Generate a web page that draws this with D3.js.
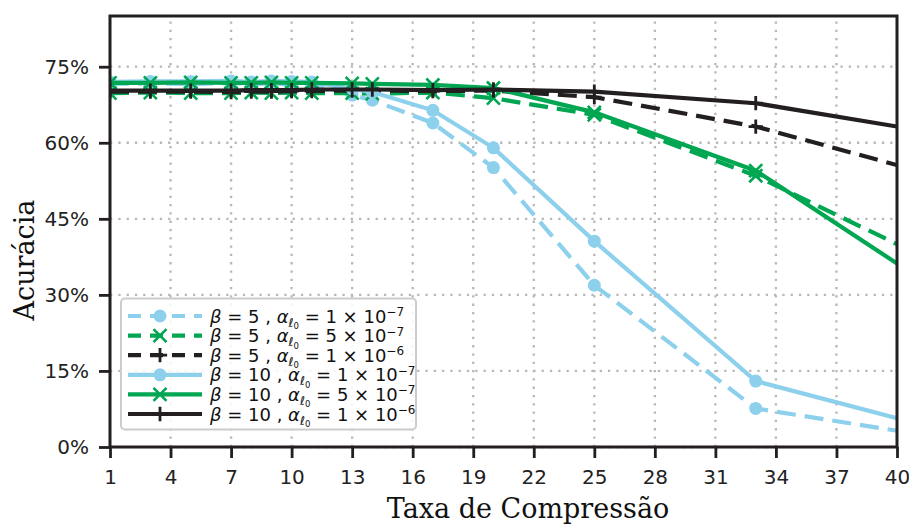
<!DOCTYPE html>
<html>
<head>
<meta charset="utf-8">
<script src="https://cdn.jsdelivr.net/npm/d3@7"></script>
<style>
  html, body { margin: 0; padding: 0; background: #fff; }
  svg { display: block; }
</style>
</head>
<body>
<div id="chart"></div>
<script>
// Compression rate on the x axis, accuracy (%) on the y axis
const compressao = [1, 3, 5, 7, 8, 9, 10, 11, 13, 14, 17, 20, 25, 33, 40];

const acc_b5_a1e7  = [71.6, 71.7, 71.6, 71.8, 71.6, 71.7, 71.5, 71.6, 69.4, 68.4, 63.9, 55.1, 31.9, 7.6, 3.2];
const acc_b5_a5e7  = [69.8, 69.9, 69.8, 69.8, 69.9, 69.8, 69.9, 69.8, 69.8, 69.7, 69.9, 68.8, 65.5, 53.5, 40.0];
const acc_b5_a1e6  = [70.1, 70.1, 70.1, 70.0, 70.1, 70.1, 70.2, 70.2, 70.3, 70.3, 70.2, 70.3, 69.0, 63.2, 55.6];
const acc_b10_a1e7 = [72.0, 72.1, 72.1, 72.2, 72.0, 72.2, 72.1, 72.0, 70.6, 70.0, 66.4, 59.0, 40.6, 13.0, 5.7];
const acc_b10_a5e7 = [71.8, 71.8, 71.9, 71.8, 71.8, 71.9, 71.8, 71.8, 71.7, 71.6, 71.4, 70.8, 66.0, 54.5, 36.2];
const acc_b10_a1e6 = [70.3, 70.3, 70.3, 70.3, 70.4, 70.4, 70.4, 70.5, 70.5, 70.5, 70.4, 70.5, 70.1, 67.8, 63.2];

// Legend parameters for each run
const betas      = [5, 5, 5, 10, 10, 10];
const alphaMant  = [1, 5, 1, 1, 5, 1];
const alphaExp   = [-7, -7, -6, -7, -7, -6];

const xTicks = [1, 4, 7, 10, 13, 16, 19, 22, 25, 28, 31, 34, 37, 40];
const yTicks = [0, 15, 30, 45, 60, 75];

const xLabel = "Taxa de Compressão";
const yLabel = "Acurácia";

const C_BLUE = "#8dd0ec", C_GREEN = "#00a651", C_BLACK = "#231f20";

const series = [
  { values: acc_b5_a1e7,  color: C_BLUE,  dashed: true,  marker: "circle" },
  { values: acc_b5_a5e7,  color: C_GREEN, dashed: true,  marker: "x" },
  { values: acc_b5_a1e6,  color: C_BLACK, dashed: true,  marker: "plus" },
  { values: acc_b10_a1e7, color: C_BLUE,  dashed: false, marker: "circle" },
  { values: acc_b10_a5e7, color: C_GREEN, dashed: false, marker: "x" },
  { values: acc_b10_a1e6, color: C_BLACK, dashed: false, marker: "plus" }
];

const W = 909, H = 524;
const L = 110, R = 897, T = 16, B = 447;
const LW = 4.2, DASH = "19 9";

const svg = d3.select("#chart").append("svg").attr("width", W).attr("height", H);

const x = d3.scaleLinear().domain([1, 40]).range([L, R]);
const y = d3.scaleLinear().domain([0, 85]).range([B, T]);

svg.append("defs").append("clipPath").attr("id", "plotClip")
  .append("rect").attr("x", L).attr("y", T).attr("width", R - L).attr("height", B - T);

// dotted grid
const grid = svg.append("g").attr("stroke", "#b8b8b8").attr("stroke-width", 2.3)
  .attr("stroke-dasharray", "2.3 6");
grid.selectAll("line.v").data(xTicks).join("line").attr("class", "v")
  .attr("x1", d => x(d)).attr("x2", d => x(d)).attr("y1", B).attr("y2", T);
grid.selectAll("line.h").data(yTicks).join("line").attr("class", "h")
  .attr("x1", L).attr("x2", R).attr("y1", d => y(d)).attr("y2", d => y(d));

// marker shapes
function drawMarker(g, kind, color, cx, cy, s) {
  if (kind === "circle") {
    g.append("circle").attr("cx", cx).attr("cy", cy).attr("r", s * 0.5).attr("fill", color);
  } else if (kind === "x") {
    const h = s * 0.5;
    g.append("path").attr("d", `M${cx - h},${cy - h}L${cx + h},${cy + h}M${cx - h},${cy + h}L${cx + h},${cy - h}`)
      .attr("stroke", color).attr("stroke-width", 2.6).attr("fill", "none");
  } else {
    const h = s * 0.55;
    g.append("path").attr("d", `M${cx - h},${cy}L${cx + h},${cy}M${cx},${cy - h}L${cx},${cy + h}`)
      .attr("stroke", color).attr("stroke-width", 2.8).attr("fill", "none");
  }
}

const plot = svg.append("g").attr("clip-path", "url(#plotClip)");
const line = d3.line().x(d => x(d[0])).y(d => y(d[1]));

series.forEach(s => {
  const pts = compressao.map((c, i) => [c, s.values[i]]);
  const g = plot.append("g");
  g.append("path").datum(pts).attr("d", line)
    .attr("fill", "none").attr("stroke", s.color).attr("stroke-width", LW)
    .attr("stroke-dasharray", s.dashed ? DASH : null);
  // markers on the right frame edge fall outside the drawing area
  pts.filter(p => p[0] < x.domain()[1]).forEach(p => drawMarker(g, s.marker, s.color, x(p[0]), y(p[1]), 13));
});

// axes
const fontTicks = "'DejaVu Sans', sans-serif";
const xAxis = svg.append("g").attr("transform", `translate(0,${B})`)
  .call(d3.axisBottom(x).tickValues(xTicks).tickSize(11).tickPadding(12).tickFormat(d3.format("d")));
const yAxis = svg.append("g").attr("transform", `translate(${L},0)`)
  .call(d3.axisLeft(y).tickValues(yTicks).tickSize(11).tickPadding(10).tickFormat(d => d + "%"));
[xAxis, yAxis].forEach(a => {
  a.select(".domain").remove();
  a.selectAll(".tick line").attr("stroke", C_BLACK).attr("stroke-width", 2.8);
  a.selectAll(".tick text").attr("fill", "#222").attr("font-family", fontTicks).attr("font-size", 20);
});

// frame
svg.append("rect").attr("x", L).attr("y", T).attr("width", R - L).attr("height", B - T)
  .attr("fill", "none").attr("stroke", C_BLACK).attr("stroke-width", 3);

// axis titles
svg.append("text").attr("x", 528).attr("y", 518).attr("text-anchor", "middle")
  .attr("font-family", "'DejaVu Serif', serif").attr("font-size", 27).attr("fill", "#111").text(xLabel);
svg.append("text").attr("transform", "translate(34,260) rotate(-90)").attr("text-anchor", "middle")
  .attr("font-family", "'DejaVu Serif', serif").attr("font-size", 27).attr("fill", "#111").text(yLabel);

// legend
const lg = svg.append("g");
lg.append("rect").attr("x", 121).attr("y", 298.5).attr("width", 295).attr("height", 131).attr("rx", 4)
  .attr("fill", "#fff").attr("fill-opacity", 0.85).attr("stroke", "#cccccc").attr("stroke-width", 2);

const rowY0 = 316, rowDY = 19.6;
series.forEach((s, i) => {
  const cy = rowY0 + i * rowDY;
  lg.append("line").attr("x1", 128).attr("x2", 202).attr("y1", cy).attr("y2", cy)
    .attr("stroke", s.color).attr("stroke-width", LW).attr("stroke-dasharray", s.dashed ? "13 9" : null);
  drawMarker(lg, s.marker, s.color, 160, cy, 13);

  const t = lg.append("text").attr("x", 210).attr("y", cy + 6.5)
    .attr("font-family", "'DejaVu Sans', sans-serif").attr("font-size", 18).attr("fill", "#111");
  t.append("tspan").attr("font-style", "italic").text("β");
  t.append("tspan").text(` = ${betas[i]} , `);
  t.append("tspan").attr("font-style", "italic").text("α");
  t.append("tspan").attr("font-style", "italic").attr("font-size", 12).attr("dy", 4).text("ℓ");
  t.append("tspan").attr("font-size", 8.5).attr("dy", 2.5).text("0");
  t.append("tspan").attr("dy", -6.5).text(` = ${alphaMant[i]} × 10`);
  t.append("tspan").attr("font-size", 12).attr("dy", -6.5).text("−" + Math.abs(alphaExp[i]));
});
</script>
</body>
</html>
